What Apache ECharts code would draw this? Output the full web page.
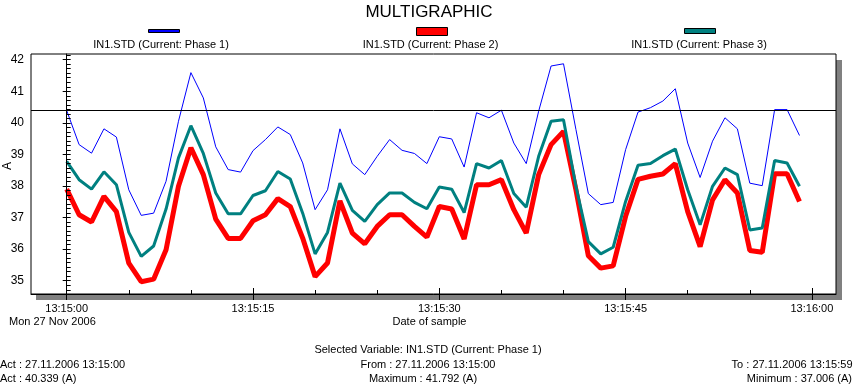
<!DOCTYPE html>
<html>
<head>
<meta charset="utf-8">
<script src="https://cdn.jsdelivr.net/npm/echarts@6/dist/echarts.min.js"></script>
<style>html,body{margin:0;padding:0;background:#fff;}#c{width:858px;height:385px;}</style>
</head>
<body>
<div id="c"></div>
<script>
// time of sample, seconds after 13:15:00
var seconds = [0,1,2,3,4,5,6,7,8,9,10,11,12,13,14,15,16,17,18,19,20,21,22,23,24,25,26,27,28,29,
               30,31,32,33,34,35,36,37,38,39,40,41,42,43,44,45,46,47,48,49,50,51,52,53,54,55,56,57,58,59];
var phase1 = [40.39,39.31,39.04,39.81,39.55,37.88,37.07,37.14,38.15,40.05,41.59,40.79,39.24,38.52,38.44,39.12,39.47,39.87,39.63,38.73,
              37.25,37.88,39.81,38.70,38.36,38.94,39.47,39.13,39.03,38.71,39.56,39.49,38.60,40.32,40.16,40.40,39.36,38.71,40.37,41.80,
              41.87,39.79,37.76,37.41,37.48,39.15,40.34,40.48,40.69,41.08,39.36,38.27,39.42,40.16,39.81,38.09,38.01,40.42,40.42,39.60];
var phase2 = [37.90,37.09,36.86,37.67,37.19,35.56,34.97,35.05,35.98,37.99,39.21,38.36,36.95,36.34,36.34,36.90,37.09,37.60,37.35,36.35,
              35.13,35.56,37.53,36.51,36.17,36.72,37.09,37.09,36.72,36.38,37.35,37.27,36.32,38.04,38.04,38.20,37.25,36.51,38.36,39.31,
              39.73,37.88,35.79,35.40,35.47,37.04,38.21,38.31,38.38,38.71,37.19,36.08,37.56,38.20,37.78,35.96,35.90,38.39,38.39,37.51];
var phase3 = [38.78,38.20,37.90,38.45,38.04,36.53,35.77,36.10,37.27,38.89,39.91,39.03,37.78,37.12,37.12,37.70,37.85,38.46,38.22,37.14,
              35.85,36.53,38.09,37.23,36.88,37.41,37.78,37.78,37.48,37.28,37.97,37.90,37.16,38.71,38.57,38.81,37.76,37.33,38.94,40.05,
              40.10,37.99,36.24,35.85,36.06,37.51,38.66,38.71,38.96,39.17,37.88,36.77,37.99,38.57,38.36,36.61,36.67,38.81,38.73,37.99];
var seriesNames = ['IN1.STD (Current: Phase 1)','IN1.STD (Current: Phase 2)','IN1.STD (Current: Phase 3)'];
var xMajor = [0,15,30,45,60];
var xMinor = [5,10,20,25,35,40,50,55];
var xTickLabels = ['13:15:00','13:15:15','13:15:30','13:15:45','13:16:00'];
var yMajor = [35,36,37,38,39,40,41,42];
var cursorX = 0;        // selected sample (13:15:00)
var cursorY = 40.41;    // Act level line as drawn
var infoLines = {
  sel: 'Selected Variable: IN1.STD (Current: Phase 1)',
  act1: 'Act : 27.11.2006 13:15:00', from: 'From : 27.11.2006 13:15:00', to: 'To : 27.11.2006 13:15:59',
  act2: 'Act : 40.339 (A)', max: 'Maximum : 41.792 (A)', min: 'Minimum : 37.006 (A)'
};

var yMinorAll = [];
for (var k = 0; k < yMajor.length; k++) {
  for (var j = 0; j < 7; j++) { yMinorAll.push(+(yMajor[k] - 0.5 + j / 7 - 0.5 + 0.5).toFixed(4)); }
}
// ticks every 1/7 unit across the axis range
yMinorAll = [];
for (var v = 34; v <= 43; v++) { for (var j = 0; j < 7; j++) { var t = v + j / 7; if (t > 34.6 && t < 42.17) yMinorAll.push(t); } }

function pairs(vals) { return seconds.map(function (s, i) { return [s, vals[i]]; }); }

var FONT = '"Liberation Sans", Arial, sans-serif';
var XMIN = -2.874, XMAX = 61.94, YMIN = 34.58, YMAX = 42.18;
function txt(text, x, y, align, size) {
  return { type: 'text', x: x, y: y, silent: true,
    style: { text: text, fill: '#000', fontSize: size || 11, fontFamily: FONT,
             align: align || 'center', textAlign: align || 'center', verticalAlign: 'middle', textVerticalAlign: 'middle' } };
}

var chart = echarts.init(document.getElementById('c'), null, { renderer: 'canvas' });
var baseX = { type: 'value', min: XMIN, max: XMAX, gridIndex: 0, position: 'bottom', splitLine: { show: false } };
var baseY = { type: 'value', min: YMIN, max: YMAX, gridIndex: 0, position: 'left', splitLine: { show: false } };
chart.setOption({
  animation: false,
  backgroundColor: '#fff',
  textStyle: { fontFamily: FONT },
  grid: { left: 31, top: 54, width: 805, height: 240, show: true, borderColor: '#000', borderWidth: 1, backgroundColor: '#fff' },
  xAxis: [
    Object.assign({}, baseX, {
      axisLine: { show: true, lineStyle: { color: '#000', width: 1 } },
      axisTick: { show: true, inside: false, length: 6, customValues: xMajor, lineStyle: { color: '#000' } },
      axisLabel: { show: true, customValues: xMajor, margin: 9, color: '#000', fontSize: 11, fontFamily: FONT,
        formatter: function (v) { var i = xMajor.indexOf(Math.round(v)); return i >= 0 ? xTickLabels[i] : ''; } },
      z: 5
    }),
    Object.assign({}, baseX, {
      axisLine: { show: false }, axisLabel: { show: false },
      axisTick: { show: true, inside: true, length: 6, customValues: xMajor, lineStyle: { color: '#000' } }, z: 5
    }),
    Object.assign({}, baseX, {
      axisLine: { show: false }, axisLabel: { show: false },
      axisTick: { show: true, inside: true, length: 4, customValues: xMinor, lineStyle: { color: '#000' } }, z: 5
    })
  ],
  yAxis: [
    Object.assign({}, baseY, {
      axisLine: { show: true, lineStyle: { color: '#000', width: 1 } },
      axisTick: { show: true, inside: false, length: 4, customValues: yMajor, lineStyle: { color: '#000' } },
      axisLabel: { show: true, customValues: yMajor, margin: 7, color: '#000', fontSize: 12, fontFamily: FONT },
      z: 5
    }),
    Object.assign({}, baseY, {
      axisLine: { show: false }, axisLabel: { show: false },
      axisTick: { show: true, inside: true, length: 4, customValues: yMinorAll, lineStyle: { color: '#000' } }, z: 5
    })
  ],
  series: [
    { name: seriesNames[0], type: 'line', data: pairs(phase1), showSymbol: false, symbol: 'none',
      lineStyle: { color: '#0000ff', width: 1 }, itemStyle: { color: '#0000ff' }, z: 4,
      markLine: { silent: true, symbol: ['none', 'none'], label: { show: false },
        lineStyle: { color: '#000', width: 1, type: 'solid' }, emphasis: { disabled: true },
        data: [ { yAxis: cursorY }, [ { coord: [cursorX, 34.8] }, { coord: [cursorX, YMAX] } ] ] } },
    { name: seriesNames[1], type: 'line', data: pairs(phase2), showSymbol: false, symbol: 'none',
      lineStyle: { color: '#ff0000', width: 5 }, itemStyle: { color: '#ff0000' }, z: 2 },
    { name: seriesNames[2], type: 'line', data: pairs(phase3), showSymbol: false, symbol: 'none',
      lineStyle: { color: '#008080', width: 3 }, itemStyle: { color: '#008080' }, z: 3 }
  ],
  graphic: [
    { type: 'rect', z: -10, silent: true, shape: { x: 836, y: 60, width: 6, height: 240 }, style: { fill: '#808080' } },
    { type: 'rect', z: -10, silent: true, shape: { x: 36, y: 294, width: 806, height: 6 }, style: { fill: '#808080' } },
    txt('MULTIGRAPHIC', 429, 12, 'center', 17),
    { type: 'rect', silent: true, shape: { x: 148.5, y: 29.5, width: 31, height: 3 }, style: { fill: '#0000ff', stroke: '#000', lineWidth: 1 } },
    { type: 'rect', silent: true, shape: { x: 416.5, y: 27.5, width: 31, height: 8 }, style: { fill: '#ff0000', stroke: '#000', lineWidth: 1 } },
    { type: 'rect', silent: true, shape: { x: 684.5, y: 28.5, width: 31, height: 5 }, style: { fill: '#008080', stroke: '#000', lineWidth: 1 } },
    txt(seriesNames[0], 161, 44.5),
    txt(seriesNames[1], 430.5, 44.5),
    txt(seriesNames[2], 699, 44.5),
    { type: 'text', x: 7.5, y: 166, rotation: Math.PI / 2, silent: true,
      style: { text: 'A', fill: '#000', fontSize: 12, fontFamily: FONT, align: 'center', textAlign: 'center', verticalAlign: 'middle', textVerticalAlign: 'middle' } },
    txt('Mon 27 Nov 2006', 9, 322, 'left'),
    txt('Date of sample', 429.5, 322),
    txt(infoLines.sel, 428, 350),
    txt(infoLines.act1, 0, 364.5, 'left'),
    txt(infoLines.from, 428, 364.5),
    txt(infoLines.to, 852.5, 364.5, 'right'),
    txt(infoLines.act2, 0, 378.5, 'left'),
    txt(infoLines.max, 423, 378.5),
    txt(infoLines.min, 852, 378.5, 'right')
  ]
});
</script>
</body>
</html>
